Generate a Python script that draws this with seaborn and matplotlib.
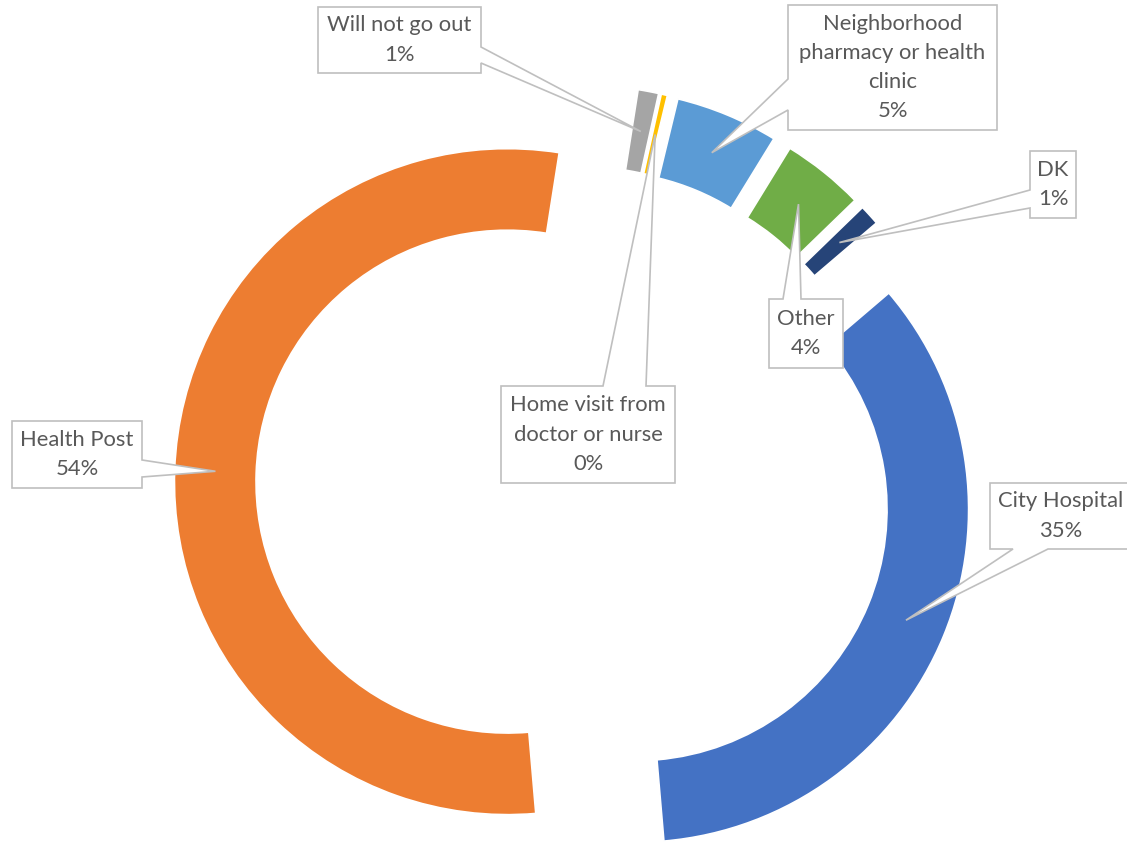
import numpy as np
import matplotlib
matplotlib.use("Agg")
import matplotlib.pyplot as plt
from matplotlib.patches import Polygon
import seaborn as sns

# --------------------------
# Datos del gráfico
# --------------------------
categorias = [
    "City Hospital",
    "Health Post",
    "Will not go out",
    "Home visit from\ndoctor or nurse",
    "Neighborhood\npharmacy or health\nclinic",
    "Other",
    "DK",
]
porcentajes = [35, 54, 1, 0.3, 5, 4, 1]
etiquetas_pct = ["35%", "54%", "1%", "0%", "5%", "4%", "1%"]
colores = ["#4472C4", "#ED7D31", "#A5A5A5", "#FFC000", "#5B9BD5", "#70AD47", "#264478"]

# Cajas de las etiquetas en píxeles (izq, arriba, der, abajo, lado del puntero, a, b)
cajas = [
    (990, 483, 1131, 549, "bottom", 1013, 1048),
    (12, 421, 142, 488, "right", 460, 477),
    (318, 7, 481, 73, "right", 47, 63),
    (501, 386, 675, 483, "top", 603, 646),
    (788, 5, 997, 130, "left", 79, 110),
    (769, 299, 843, 368, "top", 783, 801),
    (1030, 151, 1076, 218, "left", 190, 208),
]

# Geometría de la figura (px)
ANCHO, ALTO = 1127, 843
CX, CY, R = 574, 484, 333


def px(x, y):
    # convertir píxeles (origen arriba-izquierda) a coordenadas de datos
    return ((x - CX) / R, (CY - y) / R)


def main():
    sns.set_theme(style="white")
    plt.rcParams["font.family"] = ["Lato", "DejaVu Sans"]

    fig = plt.figure(figsize=(ANCHO / 100, ALTO / 100), dpi=100)
    ax = fig.add_axes([0, 0, 1, 1])

    wedges, _ = ax.pie(
        porcentajes,
        colors=colores,
        startangle=90 - 49.5,
        counterclock=False,
        explode=[0.2] * len(porcentajes),
        radius=1,
        wedgeprops=dict(width=0.245, edgecolor="white", linewidth=1.2),
    )

    # --------------------------
    # Etiquetas tipo "callout"
    # --------------------------
    for w, cat, pct, caja in zip(wedges, categorias, etiquetas_pct, cajas):
        l, t, r, b, lado, a1, a2 = caja
        mid = np.deg2rad((w.theta1 + w.theta2) / 2)
        rr = w.r - w.width / 2
        tip = (w.center[0] + rr * np.cos(mid), w.center[1] + rr * np.sin(mid))

        if lado == "right":
            pts = [px(l, t), px(r, t), px(r, a1), tip, px(r, a2), px(r, b), px(l, b)]
        elif lado == "left":
            pts = [px(l, t), px(r, t), px(r, b), px(l, b), px(l, a2), tip, px(l, a1)]
        elif lado == "top":
            pts = [px(l, t), px(a1, t), tip, px(a2, t), px(r, t), px(r, b), px(l, b)]
        else:
            pts = [px(l, t), px(r, t), px(r, b), px(a2, b), tip, px(a1, b), px(l, b)]

        ax.add_patch(Polygon(pts, closed=True, facecolor="white",
                             edgecolor="#BFBFBF", linewidth=1.2, zorder=4))
        xc, yc = px((l + r) / 2, (t + b) / 2)
        ax.text(xc, yc, f"{cat}\n{pct}", ha="center", va="center",
                fontsize=15.8, color="#595959", linespacing=1.58, zorder=5)

    ax.set_xlim(-CX / R, (ANCHO - CX) / R)
    ax.set_ylim((CY - ALTO) / R, CY / R)
    ax.set_aspect("equal")
    ax.axis("off")

    fig.savefig("out.png", dpi=100, facecolor="white")
    plt.close(fig)


if __name__ == "__main__":
    main()
